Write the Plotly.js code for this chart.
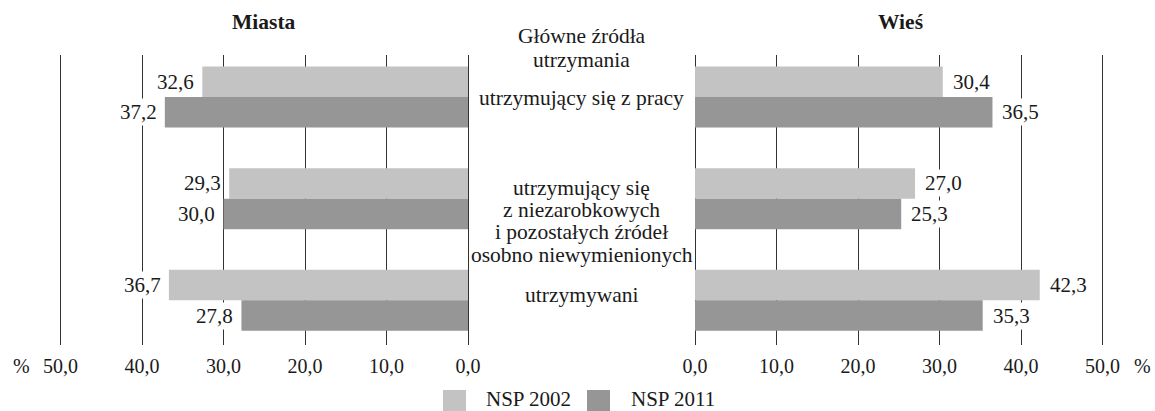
<!DOCTYPE html>
<html>
<head>
<meta charset="utf-8">
<script src="https://cdn.plot.ly/plotly-3.0.1.min.js"></script>
<style>html,body{margin:0;padding:0;background:#fff}#chart{width:1155px;height:411px}</style>
</head>
<body>
<div id="chart"></div>
<script>
// Data
var categories = [0, 1, 2];
var categoryLabels = [
  'utrzymujący się z pracy',
  'utrzymujący się<br>z niezarobkowych<br>i pozostałych źródeł<br>osobno niewymienionych',
  'utrzymywani'
];
var seriesNames = ['NSP 2002', 'NSP 2011'];
var miasta2002 = [32.6, 29.3, 36.7];
var miasta2011 = [37.2, 30.0, 27.8];
var wies2002 = [30.4, 27.0, 42.3];
var wies2011 = [36.5, 25.3, 35.3];
var tickValues = [0, 10, 20, 30, 40, 50];
var tickLabels = ['0,0', '10,0', '20,0', '30,0', '40,0', '50,0'];
var panelTitles = ['Miasta', 'Wieś'];
var middleTitle = ['Główne źródła', 'utrzymania'];

var FONT = '"Liberation Serif", "Times New Roman", serif';
var C_LIGHT = '#c3c3c3';
var C_DARK = '#969696';
var TXT = '#1a1a1a';
var seriesColors = [C_LIGHT, C_DARK];

function fmt(v){ return v.toFixed(1).replace('.', ','); }

var traces = [
  {type:'bar', orientation:'h', name:seriesNames[0], x:miasta2002, y:categories, xaxis:'x', yaxis:'y', marker:{color:C_LIGHT}, hoverinfo:'x', showlegend:false},
  {type:'bar', orientation:'h', name:seriesNames[1], x:miasta2011, y:categories, xaxis:'x', yaxis:'y', marker:{color:C_DARK}, hoverinfo:'x', showlegend:false},
  {type:'bar', orientation:'h', name:seriesNames[0], x:wies2002, y:categories, xaxis:'x2', yaxis:'y', marker:{color:C_LIGHT}, hoverinfo:'x', showlegend:false},
  {type:'bar', orientation:'h', name:seriesNames[1], x:wies2011, y:categories, xaxis:'x2', yaxis:'y', marker:{color:C_DARK}, hoverinfo:'x', showlegend:false}
];

var W = 1155, TOP = 55, PH = 290;
function py(p){ return (TOP + PH - p) / PH; }  // pixel y -> paper y
var PX = 8.15; // pixels per unit
var L0 = 468, R0 = 695;
var leftDom = [(L0 - 51*PX)/W, (L0 + PX)/W];
var rightDom = [(R0 - PX)/W, (R0 + 51*PX)/W];
var barOff = 0.15;

var ann = [];
function addLabels(vals, xref, off, left){
  vals.forEach(function(v, i){
    ann.push({xref:xref, yref:'y', x:v, y:categories[i]+off, text:fmt(v), showarrow:false,
      xanchor:left?'right':'left', xshift:left?-6:8, bgcolor:'#ffffff', borderpad:1,
      font:{family:FONT, size:21, color:TXT}});
  });
}
addLabels(miasta2002, 'x', -barOff, true);
addLabels(miasta2011, 'x', barOff, true);
addLabels(wies2002, 'x2', -barOff, false);
addLabels(wies2011, 'x2', barOff, false);

var midX = 581.5/W;
var firstLineOffset = [0.5, -11, -5];
var LINE = 22.3;
categoryLabels.forEach(function(t, i){
  t.split('<br>').forEach(function(line, j){
    ann.push({xref:'paper', yref:'y', x:midX, y:categories[i], yshift:-(firstLineOffset[i] + j*LINE), text:line, showarrow:false,
      xanchor:'center', yanchor:'middle', align:'center', borderpad:0, font:{family:FONT, size:21.5, color:TXT}});
  });
});
var titleY = [36, 60];
middleTitle.forEach(function(line, j){
  ann.push({xref:'paper', yref:'paper', x:midX, y:py(titleY[j]), text:line, showarrow:false,
    xanchor:'center', yanchor:'middle', align:'center', borderpad:0, font:{family:FONT, size:21.5, color:TXT}});
});
ann.push({xref:'paper', yref:'paper', x:263.5/W, y:py(21.7), text:'<b>'+panelTitles[0]+'</b>', showarrow:false,
  xanchor:'center', yanchor:'middle', font:{family:FONT, size:21.5, color:TXT}});
ann.push({xref:'paper', yref:'paper', x:900/W, y:py(21.7), text:'<b>'+panelTitles[1]+'</b>', showarrow:false,
  xanchor:'center', yanchor:'middle', font:{family:FONT, size:21.5, color:TXT}});
ann.push({xref:'paper', yref:'paper', x:21/W, y:py(366), text:'%', showarrow:false,
  xanchor:'center', yanchor:'middle', font:{family:FONT, size:20, color:TXT}});
ann.push({xref:'paper', yref:'paper', x:1142/W, y:py(366), text:'%', showarrow:false,
  xanchor:'center', yanchor:'middle', font:{family:FONT, size:20, color:TXT}});

// Legend (drawn as shapes + text)
var legSqX = [443, 587], legTxtX = [485, 630];
var shapes = [];
seriesNames.forEach(function(n, k){
  shapes.push({type:'rect', xref:'paper', yref:'paper', x0:legSqX[k]/W, x1:(legSqX[k]+23)/W, y0:py(411), y1:py(390),
    fillcolor:seriesColors[k], line:{width:0}, layer:'above'});
  ann.push({xref:'paper', yref:'paper', x:legTxtX[k]/W, y:py(398.5), text:n, showarrow:false,
    xanchor:'left', yanchor:'middle', borderpad:0, font:{family:FONT, size:21, color:TXT}});
});

var axisCommon = {
  tickvals: tickValues, ticktext: tickLabels, showgrid:true, gridcolor:'#333333', gridwidth:1,
  zeroline:false, showline:false, ticks:'', fixedrange:true,
  tickfont:{family:FONT, size:20, color:TXT}, anchor:'y', ticklabelstandoff:7
};

var layout = {
  width:1155, height:411,
  margin:{l:0, r:0, t:TOP, b:411-TOP-PH},
  paper_bgcolor:'#ffffff', plot_bgcolor:'rgba(0,0,0,0)',
  barmode:'group', bargap:0.4, bargroupgap:0,
  xaxis: Object.assign({}, axisCommon, {domain:leftDom, range:[51, -1]}),
  xaxis2: Object.assign({}, axisCommon, {domain:rightDom, range:[-1, 51]}),
  yaxis: {range:[2.44, -0.414], visible:false, fixedrange:true},
  showlegend:false,
  annotations: ann,
  shapes: shapes,
  font:{family:FONT, color:TXT}
};

Plotly.newPlot('chart', traces, layout, {displayModeBar:false, staticPlot:true});
</script>
</body>
</html>
